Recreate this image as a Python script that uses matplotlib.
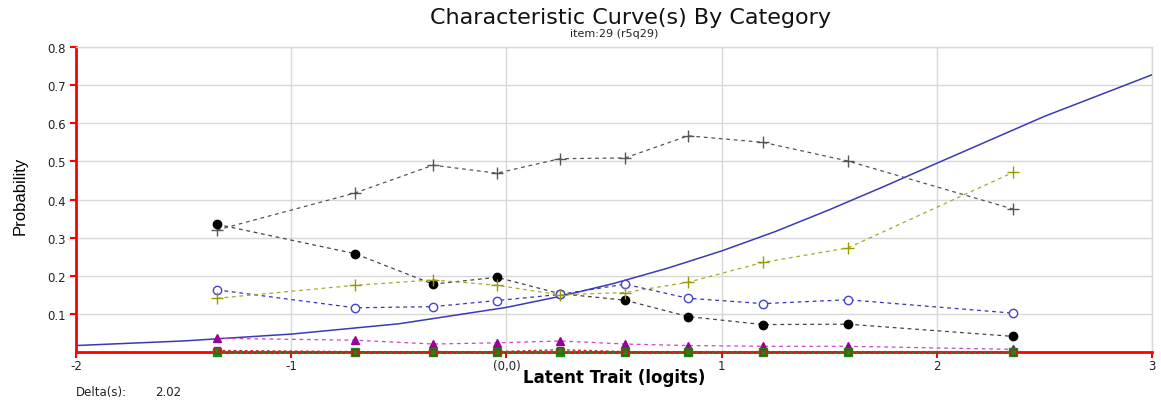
import matplotlib
matplotlib.use("Agg")
import matplotlib.pyplot as plt

plt.rcParams['font.family'] = ['DejaVu Sans']

# Observed category points (x in logits)
x_obs = [-1.345, -0.704, -0.341, -0.044, 0.249, 0.551, 0.844, 1.192, 1.587, 2.354]
cat_gray_plus = [0.320, 0.417, 0.490, 0.469, 0.507, 0.509, 0.567, 0.550, 0.501, 0.375]
cat_black_dot = [0.335, 0.258, 0.178, 0.196, 0.153, 0.136, 0.093, 0.072, 0.073, 0.041]
cat_blue_circle = [0.163, 0.116, 0.119, 0.135, 0.151, 0.178, 0.141, 0.127, 0.137, 0.102]
cat_olive_plus = [0.141, 0.175, 0.189, 0.175, 0.150, 0.156, 0.183, 0.235, 0.273, 0.471]
cat_purple_tri = [0.036, 0.031, 0.021, 0.024, 0.029, 0.021, 0.017, 0.015, 0.015, 0.007]
cat_red_square = [0.004, 0.001, 0.001, 0.001, 0.006, 0.001, 0.001, 0.001, 0.001, 0.001]
cat_green_square = [0.001, 0.001, 0.001, 0.001, 0.001, 0.001, 0.001, 0.001, 0.001, 0.001]

# Model curve
x_curve = [-2.0, -1.5, -1.0, -0.5, 0.0, 0.25, 0.5, 0.75, 1.0, 1.25, 1.5, 1.75, 2.0, 2.5, 3.0]
y_curve = [0.017, 0.029, 0.047, 0.074, 0.117, 0.146, 0.180, 0.220, 0.265, 0.316, 0.373,
           0.433, 0.495, 0.618, 0.727]

x_ticks = [-2, -1, 0, 1, 2, 3]
x_tick_labels = ['-2', '-1', '(0,0)', '1', '2', '3']
y_ticks = [0.1, 0.2, 0.3, 0.4, 0.5, 0.6, 0.7, 0.8]
y_tick_labels = ['0.1', '0.2', '0.3', '0.4', '0.5', '0.6', '0.7', '0.8']

fig = plt.figure(figsize=(11.61, 4.06), dpi=100)
ax = fig.add_axes([0.0655, 0.1305, 0.9267, 0.7513])

ax.set_xlim(-2, 3)
ax.set_ylim(0, 0.8)

ax.grid(True, color='#d8d8d8', linewidth=1.0)
ax.set_axisbelow(True)

dash = (0, (3, 3))
ax.plot(x_curve, y_curve, color='#3a3ab8', linewidth=1.1, zorder=3)
ax.plot(x_obs, cat_gray_plus, linestyle=dash, color='#555555', linewidth=0.9,
        marker='+', markersize=9, markeredgewidth=1.0, zorder=4)
ax.plot(x_obs, cat_black_dot, linestyle=dash, color='#444444', linewidth=0.9,
        marker='o', markersize=6, markerfacecolor='black', markeredgecolor='black', zorder=4)
ax.plot(x_obs, cat_blue_circle, linestyle=dash, color='#3333bb', linewidth=0.9,
        marker='o', markersize=6, markerfacecolor='white', markeredgecolor='#4444cc',
        markeredgewidth=1.0, zorder=4)
ax.plot(x_obs, cat_olive_plus, linestyle=dash, color='#a8a830', linewidth=0.9,
        marker='+', markersize=9, markeredgewidth=1.0, markeredgecolor='#999900', zorder=4)
ax.plot(x_obs, cat_purple_tri, linestyle=dash, color='#cc44cc', linewidth=0.9,
        marker='^', markersize=6, markerfacecolor='#990099', markeredgecolor='#990099', zorder=4)
ax.plot(x_obs, cat_green_square, linestyle=(0, (2, 2)), color='#228822', linewidth=1.0,
        marker='s', markersize=6, markerfacecolor='#109010', markeredgecolor='#109010',
        zorder=5, clip_on=False)
ax.plot(x_obs, cat_red_square, linestyle=(0, (2, 2)), color='#cc2222', linewidth=1.0,
        marker='s', markersize=5, markerfacecolor='none', markeredgecolor='#aa2222',
        markeredgewidth=1.0, zorder=6, clip_on=False)

ax.set_xticks(x_ticks)
ax.set_xticklabels(x_tick_labels, fontsize=8.5, color='#222222')
ax.set_yticks(y_ticks)
ax.set_yticklabels(y_tick_labels, fontsize=8.5, color='#222222')
ax.tick_params(axis='both', colors='red', labelcolor='#222222', length=4, width=1.5, direction='out')
ax.tick_params(axis='x', pad=1)

for side in ('left', 'bottom'):
    ax.spines[side].set_color('red')
    ax.spines[side].set_linewidth(2.0)
for side in ('top', 'right'):
    ax.spines[side].set_color('#d8d8d8')
    ax.spines[side].set_linewidth(1.0)

ax.set_xlabel('Latent Trait (logits)', fontsize=12, fontweight='bold', va='center')
ax.xaxis.set_label_coords(0.5, -0.082)
ax.set_ylabel('Probability', fontsize=12, family=['Liberation Sans Narrow', 'Liberation Sans'],
              va='center')
ax.yaxis.set_label_coords(-0.052, 0.515)

fig.text(0.5430, 0.941, 'Characteristic Curve(s) By Category', ha='center', va='baseline',
         fontsize=16, color='#111111')
fig.text(0.5289, 0.909, 'item:29 (r5q29)', ha='center', va='baseline', fontsize=8,
         color='#222222')
fig.text(0.0655, 0.034, 'Delta(s):', ha='left', va='center', fontsize=8.5, color='#222222')
fig.text(0.1335, 0.034, '2.02', ha='left', va='center', fontsize=8.5, color='#222222')

fig.savefig('out.png', dpi=100)
